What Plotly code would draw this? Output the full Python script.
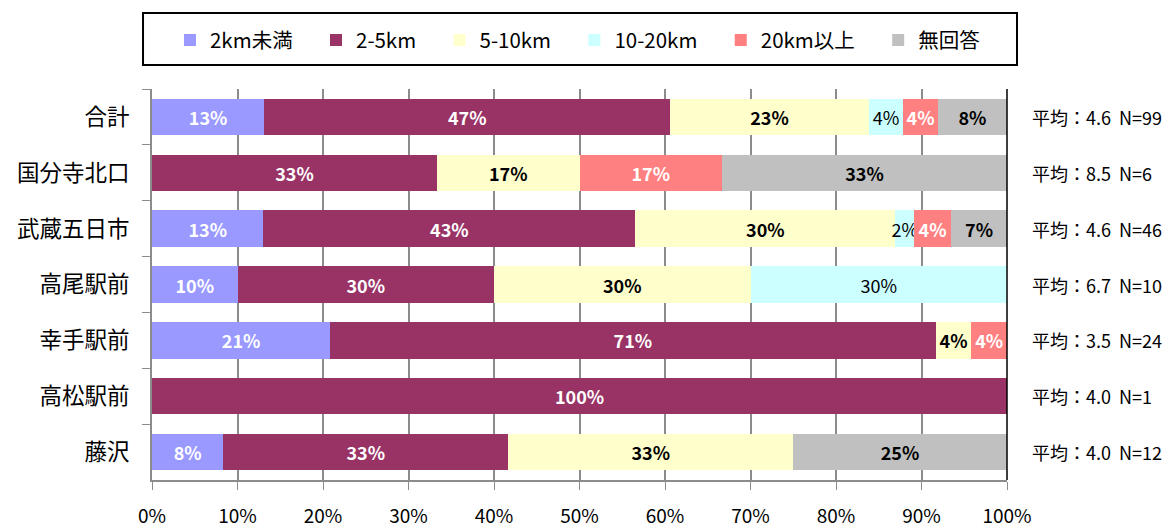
import plotly.graph_objects as go

categories = ["合計", "国分寺北口", "武蔵五日市", "高尾駅前", "幸手駅前", "高松駅前", "藤沢"]
series_names = ["2km未満", "2-5km", "5-10km", "10-20km", "20km以上", "無回答"]

v_lt2 = [13.13, 0.0, 13.04, 10.0, 20.83, 0.0, 8.33]
v_2_5 = [47.47, 33.33, 43.48, 30.0, 70.83, 100.0, 33.33]
v_5_10 = [23.23, 16.67, 30.43, 30.0, 4.17, 0.0, 33.33]
v_10_20 = [4.04, 0.0, 2.17, 30.0, 0.0, 0.0, 0.0]
v_20p = [4.04, 16.67, 4.35, 0.0, 4.17, 0.0, 0.0]
v_na = [8.08, 33.33, 6.52, 0.0, 0.0, 0.0, 25.0]

averages = ["4.6", "8.5", "4.6", "6.7", "3.5", "4.0", "4.0"]
counts = [99, 6, 46, 10, 24, 1, 12]

x_ticks = [0, 10, 20, 30, 40, 50, 60, 70, 80, 90, 100]
x_tick_labels = ["0%", "10%", "20%", "30%", "40%", "50%", "60%", "70%", "80%", "90%", "100%"]

colors = ["#9999FF", "#993366", "#FFFFCC", "#CCFFFF", "#FF8080", "#C0C0C0"]
text_colors = ["white", "white", "black", "black", "white", "black"]
text_weights = ["bold", "bold", "bold", "normal", "bold", "bold"]

values = [v_lt2, v_2_5, v_5_10, v_10_20, v_20p, v_na]
PAD = "\u00a0" * 4

fig = go.Figure()
for name, vals, col, tc, tw in zip(series_names, values, colors, text_colors, text_weights):
    labels = [f"{v:.0f}%" if v > 0 else "" for v in vals]
    fig.add_trace(go.Bar(
        y=categories, x=vals, name=name + PAD, orientation="h",
        marker=dict(color=col, line=dict(width=0)),
        text=labels, textposition="inside", insidetextanchor="middle",
        textangle=0, constraintext="none",
        textfont=dict(color=tc, size=18, weight=tw, family="Noto Sans CJK JP"),
        hovertemplate=name + ": %{x:.1f}%<extra>%{y}</extra>",
    ))

for cat, a, n in zip(categories, averages, counts):
    fig.add_annotation(
        x=1.027, xref="paper", y=cat, yref="y",
        text=f"平均：{a}\u00a0\u00a0N={n}", showarrow=False, xanchor="left",
        font=dict(size=18, color="black", family="Noto Sans CJK JP"),
    )

# right border of plot area
fig.add_shape(type="line", xref="x domain", yref="y domain", x0=1, x1=1, y0=0, y1=1,
              line=dict(color="black", width=1.5))
# legend frame
fig.add_shape(type="rect", xref="paper", yref="paper",
              x0=-0.0105, x1=1.0117, y0=1.0614, y1=1.1944,
              line=dict(color="black", width=2), fillcolor="rgba(0,0,0,0)")

fig.update_layout(
    width=1164, height=519,
    barmode="stack", bargap=0.35,
    margin=dict(l=144, r=165, t=81, b=47, autoexpand=False),
    plot_bgcolor="white", paper_bgcolor="white",
    font=dict(family="Noto Sans CJK JP", color="black"),
    showlegend=True,
    legend=dict(
        orientation="h", x=0.021, xanchor="left", y=1.176, yanchor="top",
        borderwidth=0, bgcolor="rgba(0,0,0,0)",
        font=dict(size=20.5, family="Noto Sans CJK JP"),
        traceorder="normal", itemwidth=30,
    ),
    xaxis=dict(
        range=[0, 100], tickvals=x_ticks, ticktext=x_tick_labels,
        showgrid=True, gridcolor="#8c8c8c", gridwidth=1.5,
        showline=True, linecolor="#8c8c8c", linewidth=2,
        ticks="outside", ticklen=8, tickcolor="#8c8c8c",
        ticklabelstandoff=10, automargin=False,
        tickfont=dict(size=19, family="Liberation Sans Narrow, Noto Sans CJK JP"),
        zeroline=False, fixedrange=True,
    ),
    yaxis=dict(
        categoryorder="array", categoryarray=categories, autorange="reversed",
        showgrid=False, showline=True, linecolor="#8c8c8c", linewidth=2,
        ticks="outside", tickson="boundaries", ticklen=8, tickcolor="#8c8c8c",
        ticklabelstandoff=16, automargin=False,
        tickfont=dict(size=22.5, family="Noto Sans CJK JP"),
    ),
)

fig.write_html("out.html")
